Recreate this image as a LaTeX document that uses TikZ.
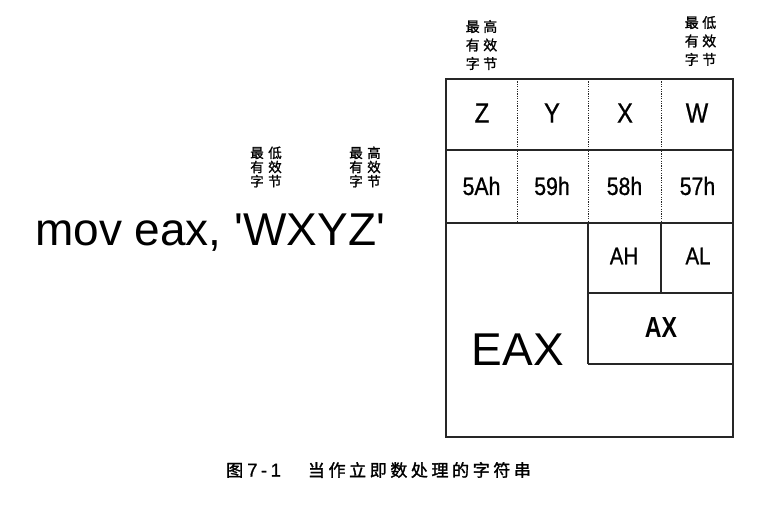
\documentclass[tikz,border=0pt]{standalone}
\usepackage{fontspec}
\setmainfont{Liberation Sans}
\newfontfamily\cellfont[FakeBold=0.8]{Liberation Sans}
\newfontfamily\cjk[FakeBold=1.6]{Noto Sans CJK SC}
\newfontfamily\cjklbl[FakeBold=1.2]{Noto Sans CJK SC}
\tikzset{
  box/.style={line width=1.2pt, black!85},
  dotline/.style={line width=1pt, black!85, dash pattern=on 1.2pt off 1.2pt},
  cell/.style={inner sep=0pt, font=\cellfont\fontsize{28}{30}\selectfont, xscale=0.85},
  hex/.style={inner sep=0pt, font=\cellfont\fontsize{25}{27}\selectfont, xscale=0.85},
  reg/.style={inner sep=0pt, font=\cellfont\fontsize{24}{26}\selectfont, xscale=0.85},
  lblwide/.style={inner sep=0pt, align=center, font=\cjklbl\fontsize{14}{18.5}\selectfont},
  lblnarrow/.style={inner sep=0pt, align=center, font=\cjklbl\fontsize{13.5}{14.2}\selectfont},
}
\newcommand\cs{\hspace{3.6pt}}
\begin{document}
\begin{tikzpicture}[x=1pt,y=-1pt]
\useasboundingbox[fill=white] (0,0) rectangle (760,512);
% grid coordinates
\coordinate (tl) at (446,79);
\coordinate (br) at (733,437);
\draw[box] (tl) rectangle (br);
\coordinate (r1l) at (446,150); \coordinate (r1r) at (733,150);
\coordinate (r2l) at (446,223); \coordinate (r2r) at (733,223);
\coordinate (r3l) at (588,293); \coordinate (r3r) at (733,293);
\coordinate (r4l) at (588,364); \coordinate (r4r) at (733,364);
\draw[box] (r1l) -- (r1r);
\draw[box] (r2l) -- (r2r);
\draw[box] (r3l) -- (r3r);
\draw[box] (r4l) -- (r4r);
\coordinate (v1t) at (517,79); \coordinate (v1b) at (517,223);
\coordinate (v2t) at (588,79); \coordinate (v2b) at (588,223);
\coordinate (v3t) at (661,79); \coordinate (v3b) at (661,223);
\coordinate (v2e) at (588,364);
\coordinate (v3e) at (661,293);
\draw[dotline] (v1t) -- (v1b);
\draw[dotline] (v2t) -- (v2b);
\draw[dotline] (v3t) -- (v3b);
\draw[box] (v2b) -- (v2e);
\draw[box] (v3b) -- (v3e);
% cell texts
\node[cell] (cz) at (482,113) {Z};
\node[cell] (cy) at (552,113) {Y};
\node[cell] (cx) at (625,113) {X};
\node[cell] (cw) at (697,113) {W};
\node[hex] (h5a) at (481.5,186) {5Ah};
\node[hex] (h59) at (552,186) {59h};
\node[hex] (h58) at (624.5,186) {58h};
\node[hex] (h57) at (697.5,186) {57h};
\node[reg] (ah) at (624,256) {AH};
\node[reg] (al) at (698,256) {AL};
\node[inner sep=0pt, font=\bfseries\fontsize{29}{31}\selectfont, xscale=0.8] (ax) at (661,327.5) {AX};
\node[inner sep=0pt, font=\fontsize{46}{48}\selectfont] (eax) at (518,350) {EAX};
% instruction
\node[inner sep=0pt, anchor=base west, font=\fontsize{46}{48}\selectfont] (mov) at (35,245) {mov eax, \textquotesingle WXYZ\textquotesingle};
% byte labels
\node[lblwide] (msbtop) at (481.5,45) {最\hspace{3.5pt}高\\有\hspace{3.5pt}效\\字\hspace{3.5pt}节};
\node[lblwide] (lsbtop) at (700.5,41) {最\hspace{3.5pt}低\\有\hspace{3.5pt}效\\字\hspace{3.5pt}节};
\node[lblnarrow] (lsbmid) at (266,167) {最\hspace{4.5pt}低\\有\hspace{4.5pt}效\\字\hspace{4.5pt}节};
\node[lblnarrow] (msbmid) at (365,167) {最\hspace{4.5pt}高\\有\hspace{4.5pt}效\\字\hspace{4.5pt}节};
% caption
\node[inner sep=0pt, anchor=west] (cap) at (226,470) {\cjk\fontsize{17}{19}\selectfont 图\hspace{4pt}{\cellfont\fontsize{18.5}{20}\selectfont 7\kern3.5pt-\kern3.5pt1}\hspace{27pt}当\cs 作\cs 立\cs 即\cs 数\cs 处\cs 理\cs 的\cs 字\cs 符\cs 串};
\end{tikzpicture}
\end{document}
